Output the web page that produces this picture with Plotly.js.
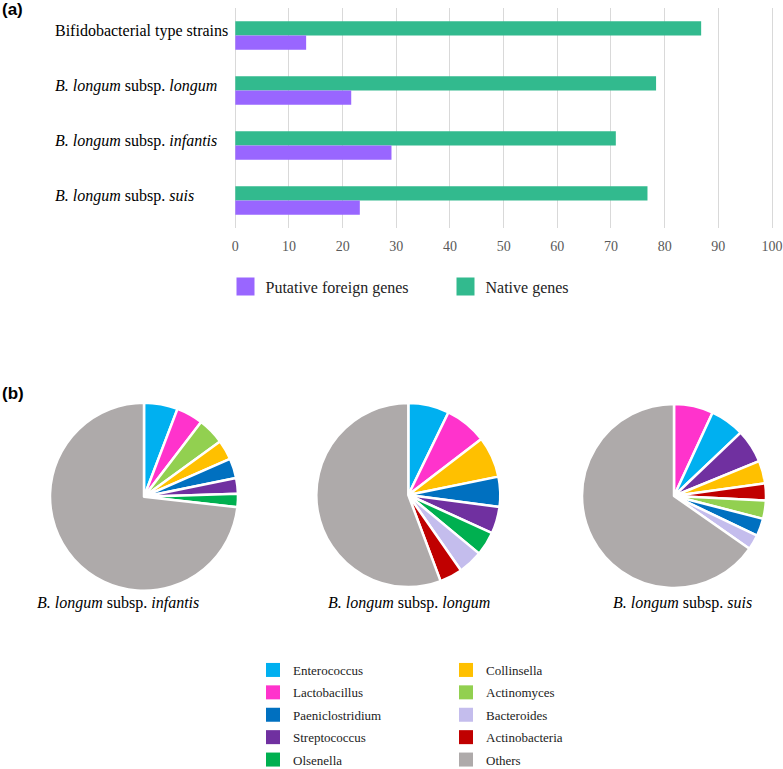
<!DOCTYPE html>
<html>
<head>
<meta charset="utf-8">
<script src="https://cdn.plot.ly/plotly-3.0.1.min.js"></script>
<style>html,body{margin:0;padding:0;background:#fff;}#chart{width:783px;height:769px;}</style>
</head>
<body>
<div id="chart"></div>
<script>
// ---- Panel (a) data ----
const barCategories = [
  "Bifidobacterial type strains",
  "<i>B. longum</i> subsp. <i>longum</i>",
  "<i>B. longum</i> subsp. <i>infantis</i>",
  "<i>B. longum</i> subsp. <i>suis</i>"
];
const foreignGenes = [13.2, 21.6, 29.1, 23.2];
const nativeGenes = [86.8, 78.4, 70.9, 76.8];
const barSeriesNames = ["Putative foreign genes", "Native genes"];
const xTickVals = [0, 10, 20, 30, 40, 50, 60, 70, 80, 90, 100];

// ---- Panel (b) data ----
const pieTitles = [
  "<i>B. longum</i> subsp. <i>infantis</i>",
  "<i>B. longum</i> subsp. <i>longum</i>",
  "<i>B. longum</i> subsp. <i>suis</i>"
];
const infantisLabels = ["Enterococcus", "Lactobacillus", "Actinomyces", "Collinsella", "Paeniclostridium", "Streptococcus", "Olsenella", "Others"];
const infantisValues = [5.8, 4.6, 4.6, 3.4, 3.4, 2.7, 2.3, 73.2];
const longumLabels = ["Enterococcus", "Lactobacillus", "Collinsella", "Paeniclostridium", "Streptococcus", "Olsenella", "Bacteroides", "Actinobacteria", "Others"];
const longumValues = [7.2, 7.4, 7.2, 5.3, 4.7, 4.2, 4.3, 4.0, 55.7];
const suisLabels = ["Lactobacillus", "Enterococcus", "Streptococcus", "Collinsella", "Actinobacteria", "Actinomyces", "Paeniclostridium", "Bacteroides", "Others"];
const suisValues = [6.9, 6.0, 5.9, 4.0, 3.0, 3.2, 3.1, 2.6, 65.3];
const legendColumn1 = ["Enterococcus", "Lactobacillus", "Paeniclostridium", "Streptococcus", "Olsenella"];
const legendColumn2 = ["Collinsella", "Actinomyces", "Bacteroides", "Actinobacteria", "Others"];

// ---- styles ----
const genusColors = {
  "Enterococcus": "#00B0F0",
  "Lactobacillus": "#FF33CC",
  "Paeniclostridium": "#0070C0",
  "Streptococcus": "#7030A0",
  "Olsenella": "#00B050",
  "Collinsella": "#FFC000",
  "Actinomyces": "#92D050",
  "Bacteroides": "#C4BDED",
  "Actinobacteria": "#C00000",
  "Others": "#AEAAAA"
};
const barColors = ["#9966FF", "#32BA8E"];
const SERIF = "Liberation Serif, Times New Roman, serif";
const W = 783, H = 769;
const py = p => 1 - p / H;   // pixel-from-top -> paper y
const px = p => p / W;

const traces = [];
// Bars (native first so it sits on top within each group on the reversed axis)
traces.push({
  type: "bar", orientation: "h", name: barSeriesNames[1],
  y: barCategories, x: nativeGenes,
  marker: {color: barColors[1]}, showlegend: false, hoverinfo: "x"
});
traces.push({
  type: "bar", orientation: "h", name: barSeriesNames[0],
  y: barCategories, x: foreignGenes,
  marker: {color: barColors[0]}, showlegend: false, hoverinfo: "x"
});
// Legend entries for panel (a)
[0, 1].forEach(i => {
  traces.push({
    type: "scatter", mode: "markers", x: [null], y: [null], xaxis: "x2", yaxis: "y2",
    name: barSeriesNames[i], legend: "legend",
    marker: {symbol: "square", size: 16, color: barColors[i], line: {color: barColors[i], width: 2}}
  });
});

// Pies
const pieSets = [
  {labels: infantisLabels, values: infantisValues, cx: 144, cy: 496.7, r: 94},
  {labels: longumLabels, values: longumValues, cx: 408.3, cy: 495, r: 92},
  {labels: suisLabels, values: suisValues, cx: 674, cy: 496, r: 92}
];
pieSets.forEach(s => {
  traces.push({
    type: "pie", labels: s.labels, values: s.values, sort: false,
    direction: "clockwise", rotation: 0, textinfo: "none", showlegend: false,
    marker: {colors: s.labels.map(l => genusColors[l]), line: {color: "#ffffff", width: 2.5}},
    domain: {x: [px(s.cx - s.r), px(s.cx + s.r)], y: [py(s.cy + s.r), py(s.cy - s.r)]}
  });
});

// Legend entries for panel (b)
legendColumn1.forEach(g => traces.push({
  type: "scatter", mode: "markers", x: [null], y: [null], xaxis: "x2", yaxis: "y2",
  name: g, legend: "legend2", legendgroup: g,
  marker: {symbol: "square", size: 14, color: genusColors[g]}
}));
legendColumn2.forEach(g => traces.push({
  type: "scatter", mode: "markers", x: [null], y: [null], xaxis: "x2", yaxis: "y2",
  name: g, legend: "legend3", legendgroup: g,
  marker: {symbol: "square", size: 14, color: genusColors[g]}
}));

const xL = 235.3, xR = 772.0, pad = 0.4;
const ppu = (xR - xL) / 100;

// Category labels of panel (a): left-aligned, placed on the category axis
const categoryLabelAnnotations = barCategories.map(c => ({
  text: c, xref: "paper", yref: "y", x: px(53), y: c, xanchor: "left", yanchor: "middle",
  yshift: 5, showarrow: false, font: {family: SERIF, size: 16, color: "#000"}
}));

const layout = {
  width: W, height: H,
  margin: {l: 0, r: 0, t: 0, b: 0, autoexpand: false},
  paper_bgcolor: "#ffffff", plot_bgcolor: "#ffffff",
  barmode: "group", bargap: 0.48, bargroupgap: 0,
  font: {family: SERIF, color: "#000"},
  xaxis: {
    domain: [px(xL - pad * ppu), px(xR + pad * ppu)],
    range: [-pad, 100 + pad],
    tickvals: xTickVals, ticks: "", showline: false, zeroline: false,
    showgrid: true, gridcolor: "#D9D9D9", gridwidth: 1,
    tickfont: {family: SERIF, size: 14, color: "#595959"},
    ticklabelstandoff: 8, fixedrange: true
  },
  yaxis: {
    domain: [py(228), py(8)],
    type: "category", autorange: "reversed",
    ticks: "", showline: false, showgrid: false, zeroline: false,
    showticklabels: false, fixedrange: true
  },
  xaxis2: {visible: false, domain: [0, 0.01], anchor: "y2"},
  yaxis2: {visible: false, domain: [0, 0.01], anchor: "x2"},
  showlegend: true,
  legend: {
    orientation: "h", x: px(225.5), xanchor: "left", y: py(269.6), yanchor: "top",
    entrywidth: 175, entrywidthmode: "pixels",
    font: {family: SERIF, size: 16, color: "#222"}, bgcolor: "rgba(0,0,0,0)"
  },
  legend2: {
    orientation: "v", x: px(253), xanchor: "left", y: py(655), yanchor: "top",
    traceorder: "grouped", tracegroupgap: 2.5,
    font: {family: SERIF, size: 13, color: "#222"}, bgcolor: "rgba(0,0,0,0)"
  },
  legend3: {
    orientation: "v", x: px(446), xanchor: "left", y: py(655), yanchor: "top",
    traceorder: "grouped", tracegroupgap: 2.5,
    font: {family: SERIF, size: 13, color: "#222"}, bgcolor: "rgba(0,0,0,0)"
  },
  annotations: categoryLabelAnnotations.concat([
    {text: "<b>(a)</b>", xref: "paper", yref: "paper", x: 0, y: py(9.5), xanchor: "left", yanchor: "middle",
     showarrow: false, font: {family: "Liberation Sans, Arial, sans-serif", size: 17, color: "#000"}},
    {text: "<b>(b)</b>", xref: "paper", yref: "paper", x: 0, y: py(393), xanchor: "left", yanchor: "middle",
     showarrow: false, font: {family: "Liberation Sans, Arial, sans-serif", size: 17, color: "#000"}},
    {text: pieTitles[0], xref: "paper", yref: "paper", x: px(118), y: py(603), xanchor: "center", yanchor: "middle",
     showarrow: false, font: {family: SERIF, size: 16, color: "#000"}},
    {text: pieTitles[1], xref: "paper", yref: "paper", x: px(409), y: py(603), xanchor: "center", yanchor: "middle",
     showarrow: false, font: {family: SERIF, size: 16, color: "#000"}},
    {text: pieTitles[2], xref: "paper", yref: "paper", x: px(682), y: py(603), xanchor: "center", yanchor: "middle",
     showarrow: false, font: {family: SERIF, size: 16, color: "#000"}}
  ])
};

Plotly.newPlot("chart", traces, layout, {displayModeBar: false, staticPlot: true});
</script>
</body>
</html>
